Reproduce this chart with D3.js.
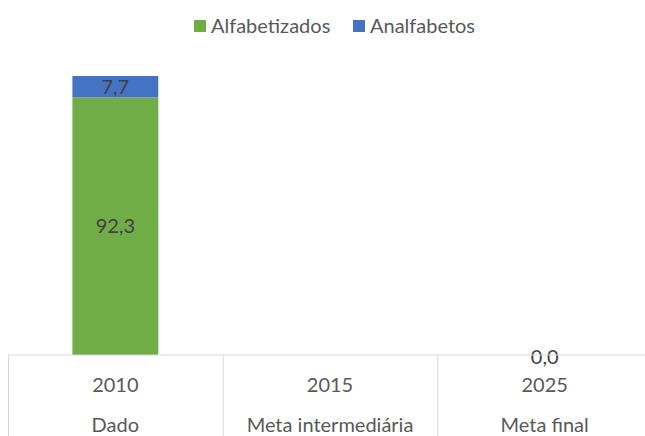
<!DOCTYPE html>
<html>
<head>
<meta charset="utf-8">
<script src="https://cdn.jsdelivr.net/npm/d3@7"></script>
<style>
  body { margin: 0; background: #fff; }
  text { font-family: Lato, "Open Sans", sans-serif; }
</style>
</head>
<body>
<div id="chart"></div>
<script>
var years = ["2010", "2015", "2025"];
var groups = ["Dado", "Meta intermediária", "Meta final"];
var alfabetizados = [92.3, null, null];
var analfabetos = [7.7, null, 0.0];
var seriesNames = ["Alfabetizados", "Analfabetos"];
var colors = ["#70AD47", "#4472C4"];

var width = 645, height = 436;
var fs = 20;
var svg = d3.select("#chart").append("svg")
    .attr("width", width)
    .attr("height", height);

var x = d3.scaleBand()
    .domain(years)
    .range([8, 652])
    .paddingInner(0)
    .paddingOuter(0);

var y = d3.scaleLinear()
    .domain([0, 100])
    .range([355, 76]);

var barW = x.bandwidth() * 0.4;

// stacked data
var rows = years.map(function(yr, i) {
    return { year: yr, a: alfabetizados[i], b: analfabetos[i] };
});

var g = svg.append("g");

rows.forEach(function(d) {
    var cx = x(d.year) + x.bandwidth() / 2;
    var base = 0;
    [d.a, d.b].forEach(function(v, k) {
        if (v === null) return;
        var top = base + v;
        if (v > 0) {
            g.append("rect")
                .attr("x", cx - barW / 2)
                .attr("y", y(top))
                .attr("width", barW)
                .attr("height", y(base) - y(top))
                .attr("fill", colors[k]);
        }
        g.append("text")
            .attr("x", cx)
            .attr("y", y((base + top) / 2) + (v > 0 ? 0 : 2))
            .attr("dy", "0.35em")
            .attr("text-anchor", "middle")
            .attr("font-size", fs)
            .attr("fill", "#404040")
            .text(d3.format(".1f")(v).replace(".", ","));
        base = top;
    });
});

// axis line and category dividers
svg.append("line")
    .attr("x1", 8).attr("x2", width)
    .attr("y1", y(0)).attr("y2", y(0))
    .attr("stroke", "#D9D9D9").attr("stroke-width", 1);

years.concat(["end"]).forEach(function(yr, i) {
    var xx = i < years.length ? x(yr) : x.range()[1];
    svg.append("line")
        .attr("x1", xx + 0.5).attr("x2", xx + 0.5)
        .attr("y1", y(0)).attr("y2", height)
        .attr("stroke", "#D9D9D9");
});

years.forEach(function(yr, i) {
    var cx = x(yr) + x.bandwidth() / 2;
    svg.append("text")
        .attr("x", cx).attr("y", 385)
        .attr("dy", "0.35em")
        .attr("text-anchor", "middle")
        .attr("font-size", fs)
        .attr("fill", "#595959")
        .text(yr);
    svg.append("text")
        .attr("x", cx).attr("y", 425)
        .attr("dy", "0.35em")
        .attr("text-anchor", "middle")
        .attr("font-size", fs)
        .attr("fill", "#595959")
        .text(groups[i]);
});

// legend
var legendX = [194, 353];
seriesNames.forEach(function(name, i) {
    var lg = svg.append("g").attr("transform", "translate(" + legendX[i] + ",20)");
    lg.append("rect")
        .attr("width", 12).attr("height", 12)
        .attr("fill", colors[i]);
    lg.append("text")
        .attr("x", 17).attr("y", 6)
        .attr("dy", "0.35em")
        .attr("font-size", fs)
        .attr("fill", "#595959")
        .text(name);
});
</script>
</body>
</html>
